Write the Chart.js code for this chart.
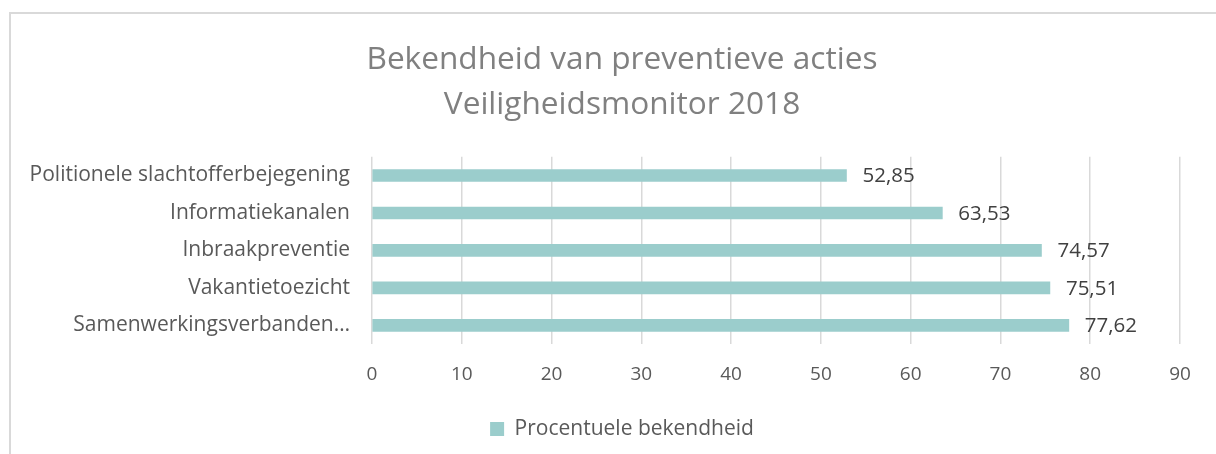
<!DOCTYPE html>
<html>
<head>
<meta charset="utf-8">
<script src="https://cdn.jsdelivr.net/npm/chart.js@4"></script>
<style>
  html, body { margin: 0; padding: 0; background: #fff; overflow: hidden; }
  #frame {
    position: absolute; left: 9px; top: 12px;
    width: 1240px; height: 480px;
    border: 2px solid #d9d9d9; box-sizing: border-box;
  }
  /* canvas a bit wider than the window so title and legend centre like the original frame */
  #wrap { position: absolute; left: 0; top: 0; width: 1244px; height: 454px; }
</style>
</head>
<body>
<div id="frame"></div>
<div id="wrap"><canvas id="chart"></canvas></div>
<script>
// categories top to bottom, as in the picture
const categories = [
  'Politionele slachtofferbejegening',
  'Informatiekanalen',
  'Inbraakpreventie',
  'Vakantietoezicht',
  'Samenwerkingsverbanden…'
];
const bekendheid = [52.85, 63.53, 74.57, 75.51, 77.62];
const xTicks = [0, 10, 20, 30, 40, 50, 60, 70, 80, 90];

const FONT = '"Open Sans", "Noto Sans", sans-serif';

// value labels right of each bar, Dutch decimal comma
const valueLabels = {
  id: 'valueLabels',
  afterDatasetsDraw(chart) {
    const { ctx } = chart;
    const meta = chart.getDatasetMeta(0);
    ctx.save();
    ctx.font = '20.5px ' + FONT;
    ctx.fillStyle = '#404040';
    ctx.textAlign = 'left';
    ctx.textBaseline = 'middle';
    meta.data.forEach((bar, i) => {
      const txt = bekendheid[i].toFixed(2).replace('.', ',');
      ctx.fillText(txt, bar.x + 16, bar.y + 1);
    });
    ctx.restore();
  }
};

new Chart(document.getElementById('chart').getContext('2d'), {
  type: 'bar',
  data: {
    labels: categories,
    datasets: [{
      label: 'Procentuele bekendheid',
      data: bekendheid,
      backgroundColor: '#9bcdcc',
      barThickness: 12
    }]
  },
  options: {
    indexAxis: 'y',
    responsive: true,
    maintainAspectRatio: false,
    animation: false,
    layout: { padding: { left: 0, right: 0, top: 0, bottom: 4.4 } },
    scales: {
      x: {
        min: 0, max: 90,
        afterBuildTicks: axis => { axis.ticks = xTicks.map(v => ({ value: v })); },
        afterFit: axis => { axis.height = 64.5; },
        grid: { color: '#d9d9d9', lineWidth: 1.5, drawTicks: false },
        border: { display: false },
        ticks: { color: '#595959', font: { family: FONT, size: 19 }, padding: 19 }
      },
      y: {
        afterFit: axis => { axis.width = 372; },
        grid: { display: false, drawTicks: false },
        border: { display: false },
        ticks: { color: '#595959', font: { family: FONT, size: 21 }, padding: 22 }
      },
      // empty spacer on the right, keeps the plot end at 90 where the original has it
      spacer: {
        type: 'category',
        position: 'right',
        afterFit: axis => { axis.width = 64; },
        grid: { display: false, drawTicks: false },
        border: { display: false },
        ticks: { display: false }
      }
    },
    plugins: {
      title: {
        display: true,
        text: ['Bekendheid van preventieve acties', 'Veiligheidsmonitor 2018'],
        color: '#808080',
        font: { family: FONT, size: 31.6, weight: 'normal', lineHeight: 1.43 },
        padding: { top: 37.4, bottom: 29 }
      },
      legend: {
        position: 'bottom',
        labels: {
          boxWidth: 14, boxHeight: 14,
          color: '#595959',
          font: { family: FONT, size: 21 },
          padding: 10
        }
      },
      tooltip: { enabled: false }
    }
  },
  plugins: [valueLabels]
});
</script>
</body>
</html>
